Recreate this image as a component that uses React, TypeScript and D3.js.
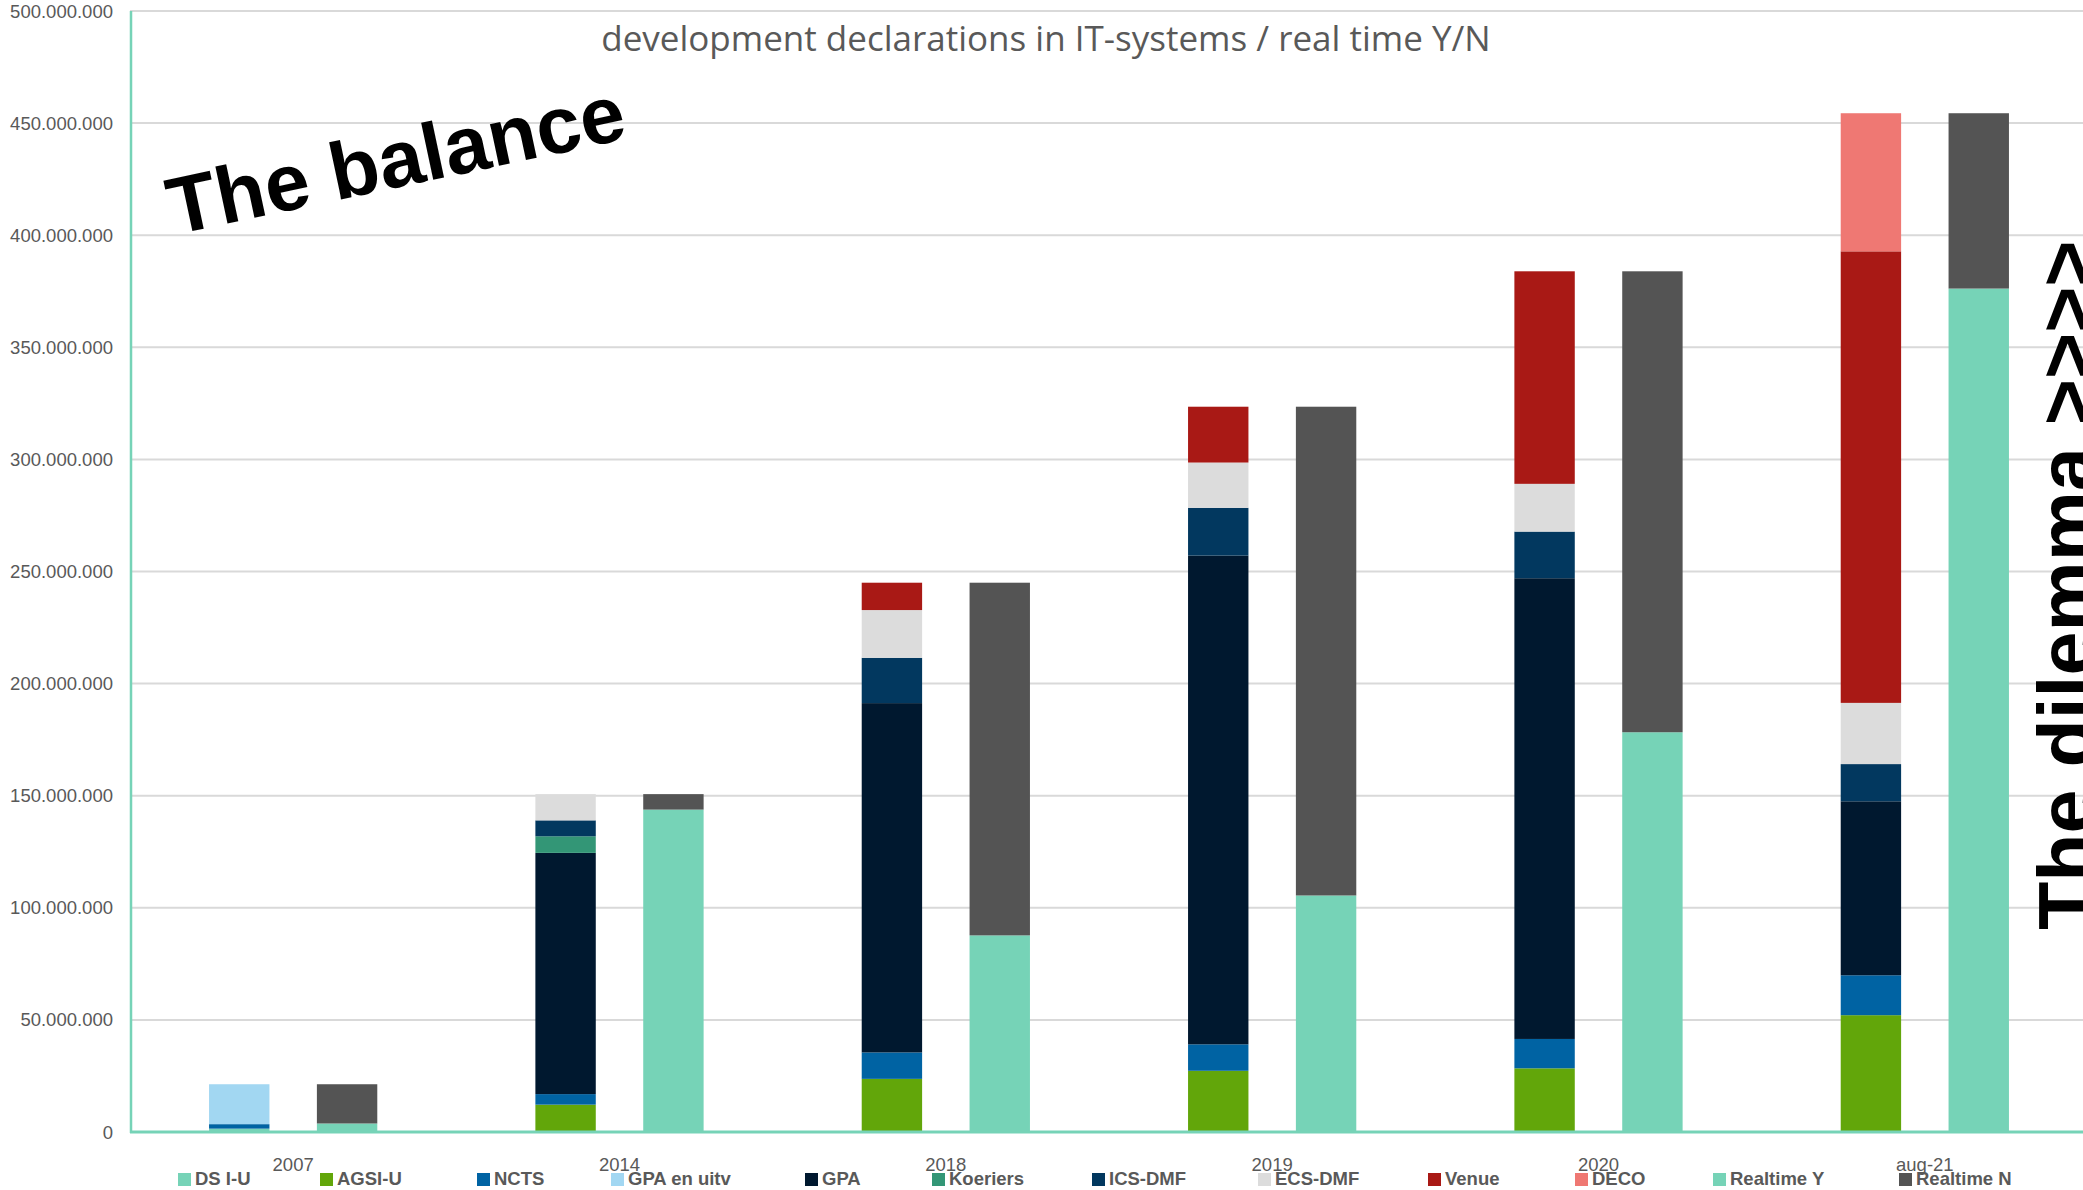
import React from "react";
import * as d3 from "d3";

const categories = ["2007", "2014", "2018", "2019", "2020", "aug-21"];
// values in millions
const dsiU = [1.5, 0, 0, 0, 0, 0];
const agsiU = [0, 12.2, 23.7, 27.3, 28.4, 52.1];
const ncts = [2.0, 4.7, 11.8, 11.8, 13.1, 17.8];
const gpaEnUitv = [17.8, 0, 0, 0, 0, 0];
const gpa = [0, 107.6, 155.8, 218.0, 205.5, 77.6];
const koeriers = [0, 7.4, 0, 0, 0, 0];
const icsDmf = [0, 7.1, 20.2, 21.3, 20.8, 16.6];
const ecsDmf = [0, 11.7, 21.3, 20.2, 21.3, 27.3];
const venue = [0, 0, 12.2, 24.9, 94.8, 201.4];
const deco = [0, 0, 0, 0, 0, 61.6];
const realtimeY = [3.8, 143.8, 87.7, 105.5, 178.3, 376.2];
const realtimeN = [17.5, 6.9, 157.3, 218.0, 205.6, 78.2];

const yTicks = [0, 50, 100, 150, 200, 250, 300, 350, 400, 450, 500];

const stackSeries = [
  { name: "DS I-U", values: dsiU, color: "#76D3B7" },
  { name: "AGSI-U", values: agsiU, color: "#62A60A" },
  { name: "NCTS", values: ncts, color: "#0063A3" },
  { name: "GPA en uitv", values: gpaEnUitv, color: "#A2D7F2" },
  { name: "GPA", values: gpa, color: "#00182F" },
  { name: "Koeriers", values: koeriers, color: "#339676" },
  { name: "ICS-DMF", values: icsDmf, color: "#02385F" },
  { name: "ECS-DMF", values: ecsDmf, color: "#DCDCDC" },
  { name: "Venue", values: venue, color: "#A91915" },
  { name: "DECO", values: deco, color: "#EF7873" },
];
const rtSeries = [
  { name: "Realtime Y", values: realtimeY, color: "#76D3B7" },
  { name: "Realtime N", values: realtimeN, color: "#545454" },
];
const legendX = [195, 337, 494, 628, 822, 949, 1109, 1275, 1445, 1592, 1730, 1916];

const W = 2083;
const H = 1190;

export default function App() {
  const x = d3.scaleBand<string>().domain(categories).range([130, 2088]);
  const sub = d3
    .scaleBand<string>()
    .domain(["S", "R"])
    .range([0, x.bandwidth()])
    .paddingInner(0.44)
    .paddingOuter(0.733);
  const y = d3.scaleLinear().domain([0, 500]).range([1132, 11]);
  const loc = d3.formatLocale({ thousands: ".", grouping: [3], decimal: ",", currency: ["", ""] });
  const fmt = loc.format(",d");

  const stackKeys = stackSeries.map((s) => s.name);
  const stackData = categories.map((c, i) => {
    const o: any = { cat: c };
    stackSeries.forEach((s) => (o[s.name] = s.values[i]));
    return o;
  });
  const stacked = d3.stack<any>().keys(stackKeys)(stackData);
  const rtKeys = rtSeries.map((s) => s.name);
  const rtData = categories.map((c, i) => {
    const o: any = { cat: c };
    rtSeries.forEach((s) => (o[s.name] = s.values[i]));
    return o;
  });
  const rtStacked = d3.stack<any>().keys(rtKeys)(rtData);

  const allLegend = [...stackSeries, ...rtSeries];

  return (
    <svg width={W} height={H} style={{ position: "absolute", left: 0, top: 0, background: "#fff" }}>
      <rect x={0} y={0} width={W} height={H} fill="#fff" />
      {/* gridlines */}
      {yTicks.slice(1).map((t) => (
        <line key={t} x1={130} x2={W} y1={y(t)} y2={y(t)} stroke="#D9D9D9" strokeWidth={2} />
      ))}
      {/* y tick labels */}
      {yTicks.map((t) => (
        <text
          key={t}
          x={113}
          y={y(t) + 6.5}
          textAnchor="end"
          fontFamily="Liberation Sans, Arial, sans-serif"
          fontSize={18.5}
          fill="#595959"
        >
          {fmt(t * 1e6)}
        </text>
      ))}
      {/* title */}
      <text
        x={1046}
        y={51}
        textAnchor="middle"
        fontFamily="Open Sans, sans-serif"
        fontSize={35}
        fill="#595959"
      >
        development declarations in IT-systems / real time Y/N
      </text>
      {/* bars */}
      {stacked.map((layer, li) => (
        <g key={layer.key} fill={stackSeries[li].color}>
          {layer.map((d, i) =>
            d[1] - d[0] > 0 ? (
              <rect
                key={i}
                x={(x(categories[i]) as number) + (sub("S") as number)}
                width={sub.bandwidth()}
                y={y(d[1])}
                height={y(d[0]) - y(d[1])}
              />
            ) : null
          )}
        </g>
      ))}
      {rtStacked.map((layer, li) => (
        <g key={layer.key} fill={rtSeries[li].color}>
          {layer.map((d, i) =>
            d[1] - d[0] > 0 ? (
              <rect
                key={i}
                x={(x(categories[i]) as number) + (sub("R") as number)}
                width={sub.bandwidth()}
                y={y(d[1])}
                height={y(d[0]) - y(d[1])}
              />
            ) : null
          )}
        </g>
      ))}
      {/* axes */}
      <line x1={131} x2={131} y1={y(500)} y2={y(0) + 1} stroke="#76D3B7" strokeWidth={2.5} />
      <line x1={130} x2={W} y1={y(0)} y2={y(0)} stroke="#76D3B7" strokeWidth={3} />
      {/* category labels */}
      {categories.map((c) => (
        <text
          key={c}
          x={(x(c) as number) + x.bandwidth() / 2}
          y={1171}
          textAnchor="middle"
          fontFamily="Liberation Sans, Arial, sans-serif"
          fontSize={18.5}
          fill="#595959"
        >
          {c}
        </text>
      ))}
      {/* legend */}
      {allLegend.map((s, i) => (
        <g key={s.name}>
          <rect x={legendX[i] - 17} y={1173} width={13} height={13} fill={s.color} />
          <text
            x={legendX[i]}
            y={1185}
            fontFamily="Liberation Sans, Arial, sans-serif"
            fontSize={18.5}
            fontWeight="bold"
            fill="#595959"
          >
            {s.name}
          </text>
        </g>
      ))}
      {/* annotations */}
      <text
        transform="translate(174,235) rotate(-12)"
        fontFamily="Liberation Sans, Arial, sans-serif"
        fontWeight="bold"
        fontSize={80.5}
        fill="#000"
      >
        The balance
      </text>
      <text
        transform="translate(2094,930) rotate(-90)"
        fontFamily="Liberation Sans, Arial, sans-serif"
        fontWeight="bold"
        fontSize={79}
        fill="#000"
      >
        The dilemma &gt;&gt;&gt;&gt;
      </text>
    </svg>
  );
}
